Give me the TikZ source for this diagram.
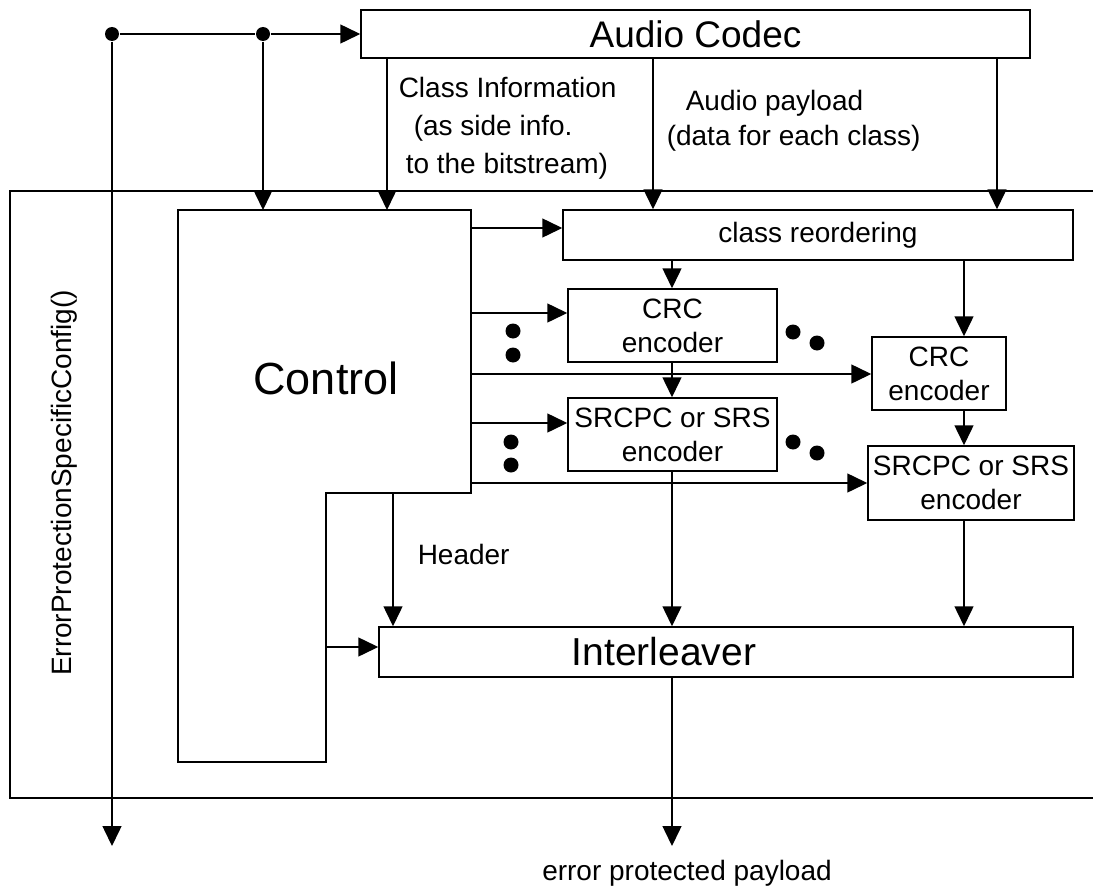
\documentclass[tikz,border=0pt]{standalone}
\usepackage{fontspec}
\setmainfont{Liberation Sans}
\usetikzlibrary{arrows.meta}
\begin{document}
\begin{tikzpicture}[x=1pt,y=-1pt,
  line width=1.5pt,
  arr/.style={-{Triangle[length=20pt,width=19pt]}},
  box/.style={draw,line width=1.5pt,inner sep=0pt,align=center,
    font=\fontsize{28}{34}\selectfont},
  lbl/.style={inner sep=0pt,align=center,font=\fontsize{28}{38}\selectfont},
  junction/.style={circle,fill,inner sep=0pt,minimum size=14pt},
  etc/.style={circle,fill,inner sep=0pt,minimum size=15pt}]
\useasboundingbox (0,0) rectangle (1093,891);

% outer frame (open to the right)
\coordinate (f-tl) at (10,191);
\coordinate (f-bl) at (10,798);
\coordinate (f-tr) at (1093,191);
\coordinate (f-br) at (1093,798);
\draw (f-tr) -- (f-tl) -- (f-bl) -- (f-br);
\node[lbl,rotate=90] (epsc) at (64,483) {ErrorProtectionSpecificConfig()};

% blocks
\node[box,minimum width=669pt,minimum height=48pt,
      font=\fontsize{37}{40}\selectfont] (codec) at (695.5,34) {Audio Codec};
\node[box,minimum width=510pt,minimum height=50pt] (reorder) at (818,235) {class reordering};
\node[box,minimum width=209pt,minimum height=73pt] (crc1) at (672.5,325.5) {CRC\\encoder};
\node[box,minimum width=209pt,minimum height=73pt] (src1) at (672.5,434.5) {SRCPC or SRS\\encoder};
\node[box,minimum width=134pt,minimum height=73pt] (crc2) at (939,373.5) {CRC\\encoder};
\node[box,minimum width=206pt,minimum height=74pt] (src2) at (971,483) {SRCPC or SRS\\encoder};
\node[box,minimum width=694pt,minimum height=50pt] (inter) at (726,652) {};
\node[inner sep=0pt,font=\fontsize{39}{42}\selectfont] (intertext) at (664,652) {Interleaver};

% control block (stepped outline)
\coordinate (c-nw) at (178,210);
\coordinate (c-ne) at (471,210);
\coordinate (c-step) at (471,493);
\coordinate (c-inner) at (326,493);
\coordinate (c-se) at (326,762);
\coordinate (c-sw) at (178,762);
\draw (c-nw) -- (c-ne) -- (c-step) -- (c-inner) -- (c-se) -- (c-sw) -- cycle;
\node[inner sep=0pt,font=\fontsize{45}{48}\selectfont] (ctltext) at (326,378) {Control};

% input distribution
\node[junction] (d1) at (112,34) {};
\node[junction] (d2) at (263,34) {};
\coordinate (out1) at (112,846);
\draw (d1) -- (d2);
\draw[arr] (d2) -- (codec.west);
\draw[arr] (d1) -- (out1);
\draw[arr] (d2) -- (d2 |- c-nw);

% codec outputs
\coordinate (xci) at (387,0);
\coordinate (xap) at (653,0);
\coordinate (xar) at (997,0);
\draw[arr] (codec.south -| xci) -- (c-nw -| xci);
\draw[arr] (codec.south -| xap) -- (reorder.north -| xap);
\draw[arr] (codec.south -| xar) -- (reorder.north -| xar);

% control lines
\coordinate (y1) at (0,228);
\coordinate (y2) at (0,313);
\coordinate (y3) at (0,374);
\coordinate (y4) at (0,423);
\coordinate (y5) at (0,483);
\coordinate (y6) at (0,647);
\draw[arr] (c-ne |- y1) -- (reorder.west |- y1);
\draw[arr] (c-ne |- y2) -- (crc1.west |- y2);
\draw[arr] (c-ne |- y3) -- (crc2.west |- y3);
\draw[arr] (c-ne |- y4) -- (src1.west |- y4);
\draw[arr] (c-ne |- y5) -- (src2.west |- y5);
\draw[arr] (c-se |- y6) -- (inter.west |- y6);

% class data paths
\coordinate (xl) at (672,0);
\coordinate (xr) at (964,0);
\coordinate (xh) at (393,0);
\draw[arr] (reorder.south -| xl) -- (crc1.north -| xl);
\draw[arr] (crc1.south -| xl) -- (src1.north -| xl);
\draw[arr] (src1.south -| xl) -- (inter.north -| xl);
\draw[arr] (reorder.south -| xr) -- (crc2.north -| xr);
\draw[arr] (crc2.south -| xr) -- (src2.north -| xr);
\draw[arr] (src2.south -| xr) -- (inter.north -| xr);
\draw[arr] (c-inner -| xh) -- (inter.north -| xh);
\coordinate (out2) at (672,846);
\draw[arr] (inter.south -| xl) -- (out2);

% continuation dots
\foreach \p in {(513,331),(513,355),(793,332),(817,343),
                (511,442),(511,465),(793,442),(817,453)}
  \node[etc] at \p {};

% labels
\node[lbl,align=left,anchor=west] (classinfo) at (398,128)
  {Class Information\\\hspace*{15pt}(as side info.\\\hspace*{7pt}to the bitstream)};
\node[lbl,align=left,anchor=west,font=\fontsize{28}{35}\selectfont] (payload) at (666,121)
  {\hspace*{19pt}Audio payload\\(data for each class)};
\node[lbl,anchor=west] (hdr) at (417,554) {Header};
\node[lbl] (eppl) at (687,873) {error protected payload};
\end{tikzpicture}
\end{document}
